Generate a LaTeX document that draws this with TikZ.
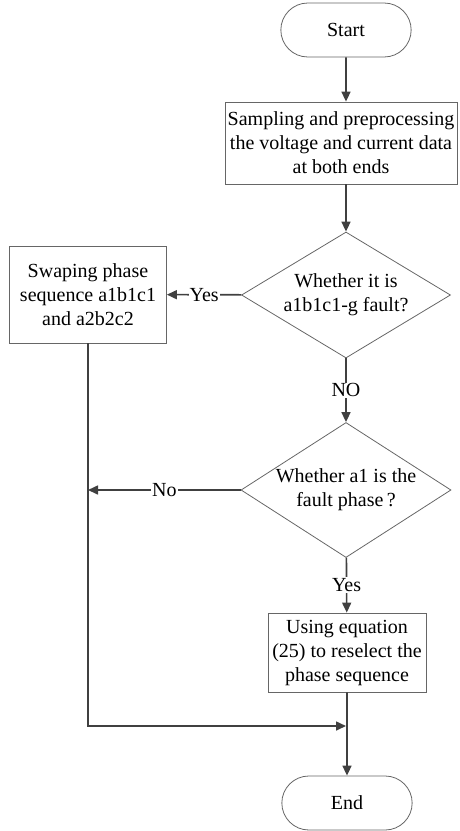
\documentclass[tikz,border=0pt]{standalone}
\usepackage{fontspec}
\setmainfont{Liberation Serif}
\usetikzlibrary{arrows.meta,shapes.geometric,shapes.misc}

\tikzset{
  flowline/.style={draw=black!75,line width=1.6pt,
    -{Triangle[length=10pt,width=9pt]}},
  terminal/.style={rounded rectangle,draw=black!60,line width=0.8pt,
    minimum width=137pt,minimum height=54pt},
  procbox/.style={rectangle,draw=black!60,line width=0.8pt,
    align=center,inner sep=1pt},
  decision/.style={diamond,draw=black!60,line width=0.8pt,
    align=center,inner sep=0pt},
  answer/.style={fill=white,inner sep=1pt}
}

\begin{document}
\begin{tikzpicture}[x=1pt,y=-1pt,font=\fontsize{20}{24}\selectfont]
    \useasboundingbox (0,0) rectangle (459,831);

    \coordinate (c0) at (346, 30);
    \coordinate (c1) at (341, 143);
    \coordinate (c2) at (346, 295);
    \coordinate (c3) at (88, 294.5);
    \coordinate (c4) at (346, 490);
    \coordinate (c5) at (347, 652.5);
    \coordinate (c6) at (347, 803);
    \coordinate (nojoin) at (88, 490);
    \coordinate (merge) at (346, 726);

    \node [terminal] (start) at (c0) {Start};

    \node [procbox,minimum width=232pt,
    minimum height=82pt] (sample) at (c1)
    {Sampling and preprocessing\\the voltage and current data\\at both ends};

    \node [decision,aspect=1.66,minimum width=209pt,
    minimum height=126pt] (dec1) at (c2)
    {Whether it is\\a1b1c1-g fault?};

    \node [procbox,minimum width=157pt,
    minimum height=97pt] (swap) at (c3)
    {Swaping phase\\sequence a1b1c1\\and a2b2c2};

    \node [decision,aspect=1.56,minimum width=210pt,
    minimum height=135pt] (dec2) at (c4)
    {Whether a1 is the\\fault phase\,?};

    \node [procbox,minimum width=158pt,
    minimum height=79pt] (reselect) at (c5)
    {Using equation\\(25) to reselect the\\phase sequence};

    \node [terminal] (end) at (c6) {End};

    \draw [flowline] (start) -- (start |- sample.north);
    \draw [flowline] (dec1 |- sample.south) -- (dec1);
    \draw [flowline] (dec1) -- node [answer] {Yes} (swap);
    \draw [flowline] (dec1) -- node [answer] {NO} (dec2);
    \draw [flowline] (dec2) -- node [answer] {No} (nojoin);
    \draw [flowline] (dec2) -- node [answer] {Yes} (reselect);
    \draw [flowline] (swap.south -| nojoin) |- (merge);
    \draw [flowline] (reselect) -- (end);
  \end{tikzpicture}
\end{document}
